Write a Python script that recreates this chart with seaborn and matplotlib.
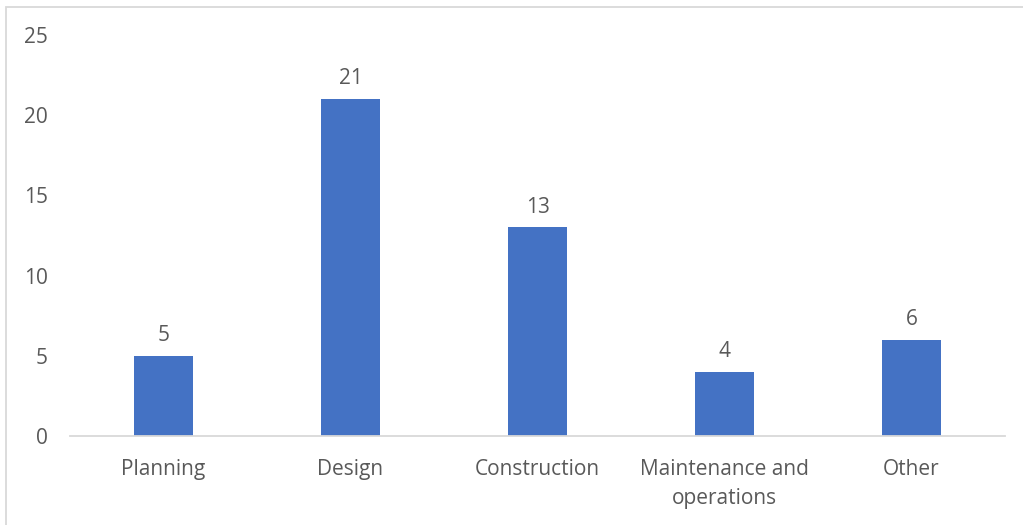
import matplotlib
matplotlib.use("Agg")
import matplotlib.pyplot as plt
from matplotlib.patches import Rectangle
import seaborn as sns
import pandas as pd

categories = ["Planning", "Design", "Construction", "Maintenance and\noperations", "Other"]
counts = [5, 21, 13, 4, 6]
yticks = [0, 5, 10, 15, 20, 25]

sns.set_theme(style="white")
plt.rcParams["font.family"] = ["Open Sans", "DejaVu Sans"]

TEXT = "#595959"
BAR = "#4472C4"
LINE = "#D9D9D9"
FS = 15

df = pd.DataFrame({"category": categories, "count": counts})

fig = plt.figure(figsize=(10.23, 5.25), dpi=100)
W, H = 1023, 525
ax = fig.add_axes([70 / W, 1 - 436 / H, 935 / W, (436 - 35) / H])

sns.barplot(data=df, x="category", y="count", color=BAR, width=0.315,
            saturation=1, linewidth=0, ax=ax)

ax.set_ylim(0, 25)
ax.set_xlim(-0.5, len(categories) - 0.5)
ax.set_yticks(yticks)
ax.set_xlabel("")
ax.set_ylabel("")
for s in ["top", "right", "left"]:
    ax.spines[s].set_visible(False)
ax.spines["bottom"].set_color(LINE)
ax.spines["bottom"].set_linewidth(1.3)
ax.tick_params(axis="both", length=0, colors=TEXT, labelsize=FS)
ax.tick_params(axis="y", pad=16)
ax.tick_params(axis="x", pad=16.5)
for lbl in ax.get_xticklabels():
    lbl.set_linespacing(1.5)

for i, v in enumerate(counts):
    ax.annotate(str(v), (i, v), xytext=(0, 7), textcoords="offset points",
                ha="center", va="bottom", fontsize=FS, color=TEXT)

# chart area frame
fig.patches.append(Rectangle((6 / W, -0.1), 1.1, 1 - 7 / H + 0.1,
                             transform=fig.transFigure, fill=False,
                             edgecolor=LINE, linewidth=1.3))

fig.savefig("out.png", dpi=100)
